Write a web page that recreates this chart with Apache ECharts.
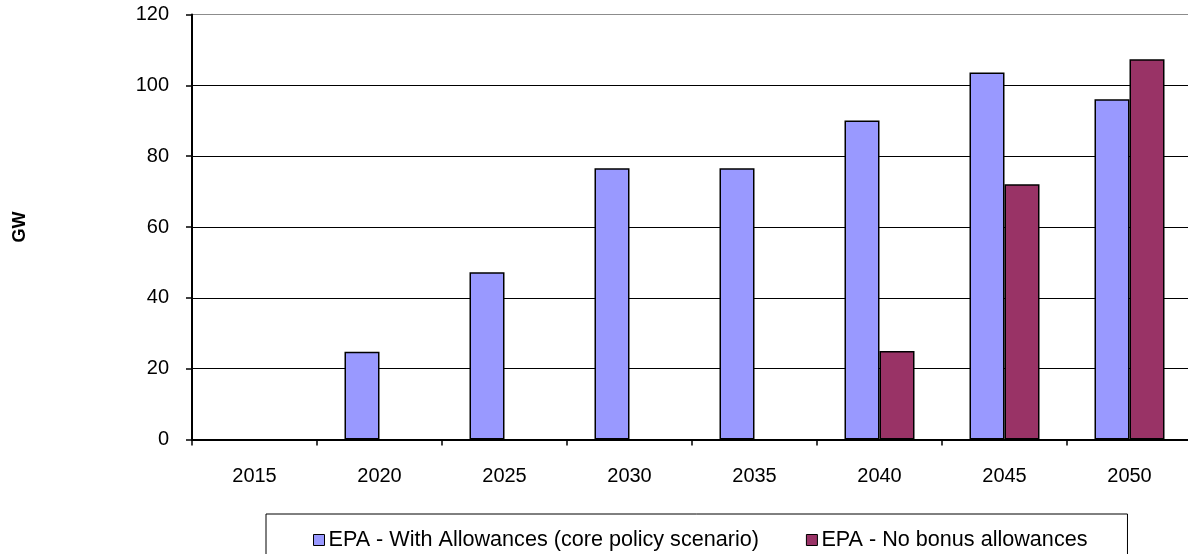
<!DOCTYPE html>
<html>
<head>
<meta charset="utf-8">
<script src="https://cdn.jsdelivr.net/npm/echarts@6/dist/echarts.min.js"></script>
<style>
  html, body { margin: 0; padding: 0; background: #ffffff; }
  #chart { width: 1188px; height: 554px; }
</style>
</head>
<body>
<div id="chart"></div>
<script>
// Installed capacity (GW) by year under two EPA allowance scenarios
const years = ['2015', '2020', '2025', '2030', '2035', '2040', '2045', '2050'];
const withAllowances = [0, 24.8, 47.2, 76.6, 76.6, 90.1, 103.6, 96.1];
const noBonusAllowances = [0, 0, 0, 0, 0, 25.0, 72.1, 107.4];
const yTicks = [0, 20, 40, 60, 80, 100, 120];

const FONT = '"Liberation Sans", Arial, sans-serif';
const chart = echarts.init(document.getElementById('chart'), null, { renderer: 'canvas' });

// gridlines: black, with the top (120) line drawn in grey
const gridColors = yTicks.map((t, i) => (i === yTicks.length - 1 ? '#8c8c8c' : '#000000'));

// zero-height bars get no outline so they stay invisible on the axis
const toBars = (values) => values.map((v) => (v === 0 ? { value: 0, itemStyle: { borderWidth: 0 } } : v));

chart.setOption({
  animation: false,
  backgroundColor: '#ffffff',
  textStyle: { fontFamily: FONT },
  grid: { left: 192, right: -4, top: 14.5, bottom: 114.5, containLabel: false, outerBoundsMode: 'none' },
  legend: {
    left: 266,
    top: 514,
    padding: [15, 40, 12, 47],
    borderColor: '#000000',
    borderWidth: 1,
    itemWidth: 11,
    itemHeight: 11,
    itemGap: 47,
    icon: 'rect',
    textStyle: { fontFamily: FONT, fontSize: 21.6, color: '#000000', padding: [0, 0, 0, -1] },
    data: [
      { name: 'EPA - With Allowances (core policy scenario)', itemStyle: { borderColor: '#000', borderWidth: 1 } },
      { name: 'EPA - No bonus allowances', itemStyle: { borderColor: '#000', borderWidth: 1 } }
    ]
  },
  xAxis: {
    type: 'category',
    data: years,
    boundaryGap: true,
    axisLine: { lineStyle: { color: '#000000', width: 2 } },
    axisTick: { show: true, alignWithLabel: false, length: 6, lineStyle: { color: '#000000', width: 1.5 } },
    axisLabel: { fontFamily: FONT, fontSize: 20, color: '#000000', margin: 27 },
    splitLine: { show: false }
  },
  yAxis: {
    type: 'value',
    min: 0,
    max: 120,
    interval: 20,
    name: 'GW',
    nameLocation: 'middle',
    nameRotate: 90,
    nameGap: 163,
    nameTextStyle: { fontFamily: FONT, fontSize: 18, fontWeight: 'bold', color: '#000000' },
    axisLine: { show: true, lineStyle: { color: '#000000', width: 2 } },
    axisTick: { show: true, length: 6, lineStyle: { color: '#000000', width: 1.5 } },
    axisLabel: { fontFamily: FONT, fontSize: 20, color: '#000000', margin: 23 },
    splitLine: { show: true, lineStyle: { color: gridColors, width: 1.2 } }
  },
  series: [
    {
      name: 'EPA - With Allowances (core policy scenario)',
      type: 'bar',
      data: toBars(withAllowances),
      barWidth: 35,
      barGap: '0%',
      itemStyle: { color: '#9999ff', borderColor: '#000000', borderWidth: 1.5 }
    },
    {
      name: 'EPA - No bonus allowances',
      type: 'bar',
      data: toBars(noBonusAllowances),
      barWidth: 35,
      itemStyle: { color: '#993366', borderColor: '#000000', borderWidth: 1.5 }
    }
  ]
});
</script>
</body>
</html>
